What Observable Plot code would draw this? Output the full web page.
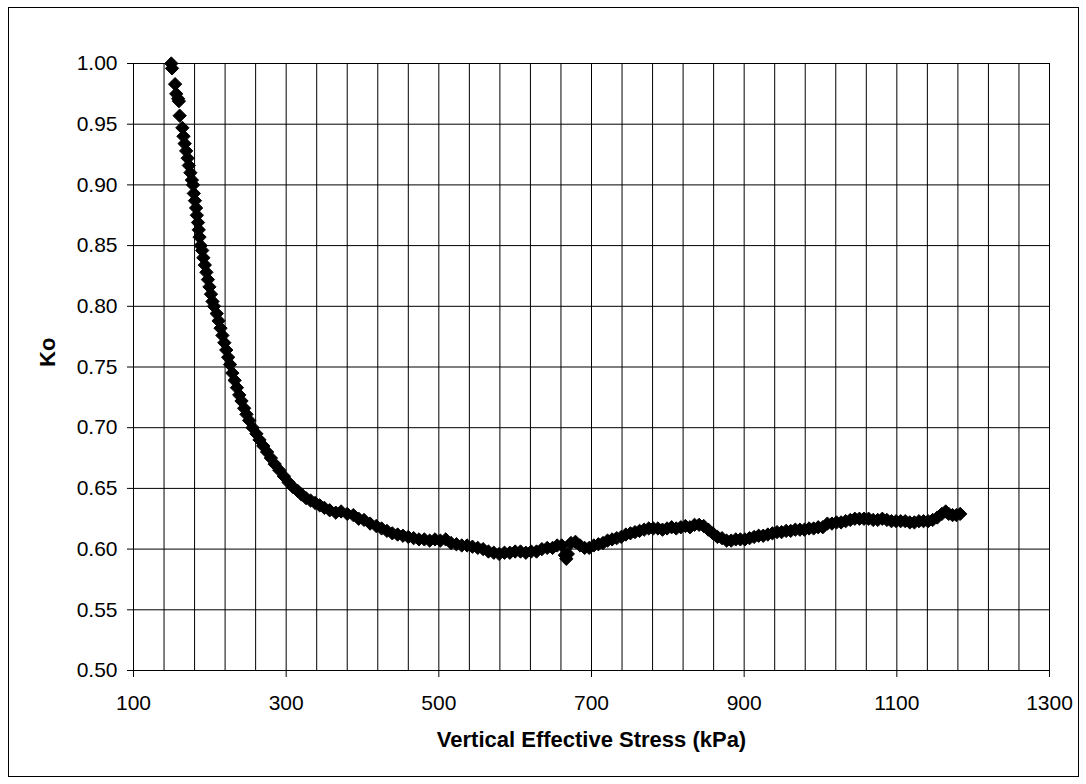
<!DOCTYPE html>
<html><head><meta charset="utf-8">
<script src="https://cdn.jsdelivr.net/npm/d3@7"></script>
<script src="https://cdn.jsdelivr.net/npm/@observablehq/plot@0.6"></script>
<style>
body{margin:0;background:#fff;}
#wrap{position:relative;width:1086px;height:784px;overflow:hidden;}
#border{position:absolute;left:8px;top:7px;width:1071px;height:770px;border:1px solid #000;box-sizing:border-box;pointer-events:none;}
</style></head><body><div id="wrap"><div id="border"></div></div>
<script>
// Vertical effective stress (kPa), Ko readings — steep loading branch
const steepBranch = [
[149.5,1.000],[150.5,0.996],[154.5,0.983],[156,0.975],[158.5,0.971],[159.5,0.969],[160.5,0.957],
[164,0.947],[165.5,0.940],[167,0.934],[169,0.928],[171,0.922],[172.5,0.916],[174.5,0.910],
[176.5,0.904],[178,0.900],[179,0.893],[180.5,0.887],[182,0.881],[183,0.875],[184.5,0.869],
[185.5,0.863],[186.5,0.857],[188,0.850],[190,0.846],[191.5,0.840],[193.5,0.834],[195.5,0.828],
[197.5,0.822],[199.5,0.816],[201.5,0.810],[203.5,0.804],[205.5,0.800],[209,0.794],[211.5,0.788],
[214,0.782],[216.5,0.776],[219,0.770],[221.5,0.764],[224,0.758],[226.5,0.752],[229.5,0.745],
[232.5,0.739],[235.5,0.733],[238.5,0.727],[241.5,0.722],[245,0.716],[248,0.711],[251.5,0.706],
[256,0.700],[261,0.695],[265,0.690],[270,0.685],[275,0.680],[280,0.675],[285,0.670],[291,0.665],
[297,0.660],[303,0.655],[309,0.651],[315,0.648],[320,0.645],[326,0.642],[332,0.640],[338,0.638],[344,0.636]
];
// flat branch
const flatBranch = [
[350,0.634],[357,0.632],[365,0.630],[372,0.631],[380,0.629],[388,0.628],[395,0.625],[402,0.624],
[410,0.621],[418,0.619],[425,0.617],[432,0.615],[439,0.613],[446,0.612],[453,0.611],[460,0.610],
[467,0.609],[474,0.608],[481,0.608],[488,0.607],[495,0.608],[502,0.607],[509,0.608],[516,0.605],
[523,0.604],[530,0.603],[537,0.603],[544,0.602],[551,0.601],[558,0.600],[565,0.598],[572,0.597],
[579,0.596],[586,0.597],[593,0.597],[600,0.598],[607,0.598],[614,0.597],[621,0.598],[628,0.598],
[635,0.600],[642,0.601],[649,0.601],[655,0.603],[661,0.603],[665,0.595],[667,0.592],[669,0.596],
[673,0.605],[679,0.606],[685,0.603],[691,0.601],[697,0.601],[703,0.603],[709,0.604],[715,0.605],
[721,0.607],[727,0.608],[733,0.609],[739,0.610],[745,0.612],[751,0.613],[757,0.614],[763,0.615],
[769,0.616],[775,0.617],[781,0.617],[787,0.617],[793,0.616],[799,0.617],[805,0.618],[811,0.617],
[817,0.618],[823,0.619],[829,0.618],[835,0.620],[841,0.620],[847,0.619],[853,0.616],[859,0.613],
[865,0.610],[871,0.609],[877,0.607],[883,0.607],[889,0.608],[895,0.608],[901,0.608],[907,0.609],
[913,0.610],[919,0.611],[925,0.611],[931,0.612],[937,0.613],[943,0.614],[949,0.614],[955,0.615],
[961,0.615],[967,0.616],[973,0.616],[979,0.616],[985,0.617],[991,0.617],[997,0.618],[1003,0.618],
[1009,0.621],[1015,0.621],[1021,0.622],[1027,0.622],[1033,0.623],[1039,0.624],[1045,0.625],[1051,0.625],
[1057,0.625],[1063,0.625],[1069,0.624],[1075,0.624],[1081,0.625],[1087,0.624],[1093,0.623],[1099,0.623],
[1105,0.623],[1111,0.623],[1117,0.622],[1123,0.622],[1129,0.623],[1135,0.623],[1141,0.623],[1147,0.624],
[1153,0.626],[1159,0.629],[1164,0.631],[1168,0.629],[1173,0.628],[1178,0.628],[1183,0.629]
];
const xTicks = [100,300,500,700,900,1100,1300];
const xGrid = [100,140,180,220,260,300,340,380,420,460,500,540,580,620,660,700,740,780,820,860,900,940,980,1020,1060,1100,1140,1180,1220,1260,1300];
const yTicks = [0.50,0.55,0.60,0.65,0.70,0.75,0.80,0.85,0.90,0.95,1.00];
const xLabel = "Vertical Effective Stress (kPa)";
const yLabel = "Ko";

const data = steepBranch.concat(flatBranch).map(([s,k]) => ({s, k}));

const chart = Plot.plot({
  width: 1086, height: 784,
  marginLeft: 133, marginRight: 37, marginTop: 63, marginBottom: 114,
  x: {domain: [100, 1300]},
  y: {domain: [0.5, 1.0]},
  style: {fontFamily: "'Liberation Sans', Arial, sans-serif", background: "transparent", color: "#000", overflow: "visible"},
  marks: [
    Plot.ruleX(xGrid, {stroke: "#000", strokeWidth: 1}),
    Plot.ruleY(yTicks, {stroke: "#000", strokeWidth: 1}),
    Plot.axisX(xTicks, {tickSize: 7, tickPadding: 18, fontSize: 21, label: null, tickFormat: d => String(d), stroke: "#000"}),
    Plot.axisY(yTicks, {tickSize: 6, tickPadding: 10, fontSize: 21, label: null, tickFormat: d => d.toFixed(2), stroke: "#000"}),
    Plot.dot(data, {x: "s", y: "k", symbol: "diamond2", r: 6, fill: "#000", stroke: "#000", strokeWidth: 1}),
    Plot.text([xLabel], {frameAnchor: "bottom", dy: 76, fontSize: 22, fontWeight: "bold", letterSpacing: 0.3, text: d => d}),
    Plot.text([yLabel], {frameAnchor: "left", dx: -86, rotate: -90, fontSize: 22, fontWeight: "bold", text: d => d})
  ]
});
document.getElementById("wrap").prepend(chart);
</script>
</body></html>
